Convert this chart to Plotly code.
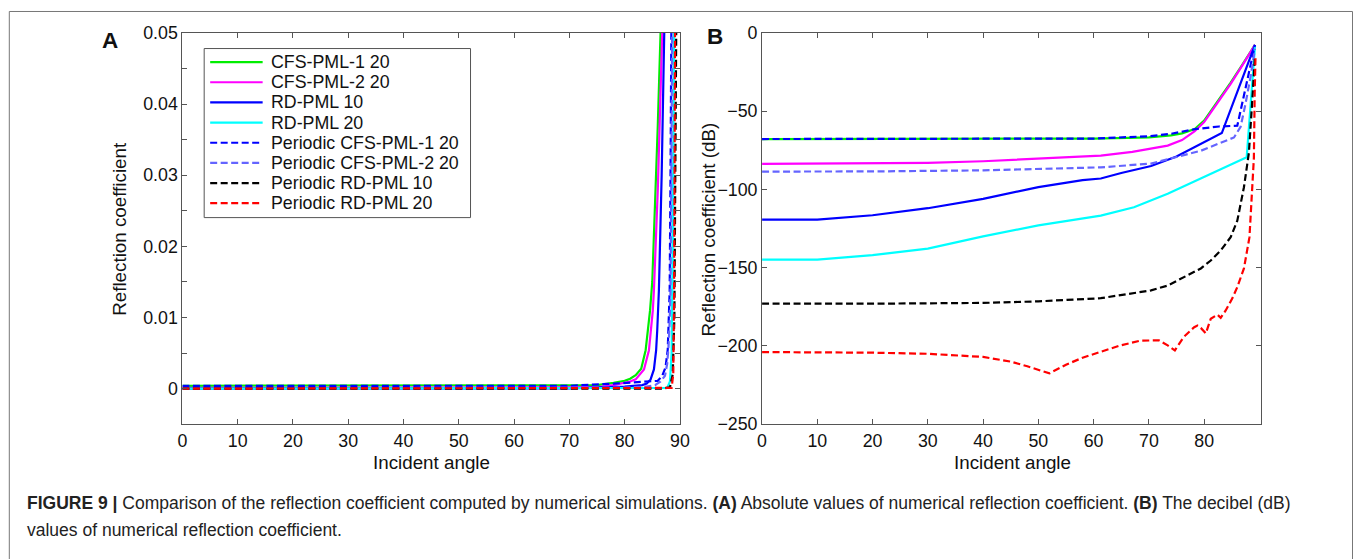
import plotly.graph_objects as go

# ---------------- data ----------------
names = ["CFS-PML-1 20", "CFS-PML-2 20", "RD-PML 10", "RD-PML 20",
         "Periodic CFS-PML-1 20", "Periodic CFS-PML-2 20",
         "Periodic RD-PML 10", "Periodic RD-PML 20"]
colors = ["#00ee00", "#ff00ff", "#0000ff", "#00ffff",
          "#0000ff", "#6464ff", "#000000", "#ff0000"]
dashes = ["solid", "solid", "solid", "solid",
          "7px,3.5px", "7px,3.5px", "7px,3.5px", "7px,3.5px"]

# Panel A: absolute reflection coefficient
a_cfs1_x = [0, 60, 75, 78, 80, 81, 82, 83, 83.8, 84.2, 84.6, 85.0, 85.5, 86.0, 86.5, 86.9]
a_cfs1_y = [0.0004, 0.0004, 0.0005, 0.0008, 0.0011, 0.0014, 0.0019, 0.0028, 0.0054, 0.0082, 0.011, 0.015, 0.025, 0.037, 0.050, 0.062]
a_cfs2_x = [0, 60, 75, 78, 80, 81, 82, 83.5, 84.4, 84.8, 85.1, 85.3, 86.0, 86.8, 87.1]
a_cfs2_y = [0.0001, 0.0001, 0.0002, 0.0005, 0.0008, 0.001, 0.0013, 0.0027, 0.0054, 0.0082, 0.011, 0.0138, 0.028, 0.05, 0.06]
a_rd10_x = [0, 70, 80, 82, 83.2, 84.0, 84.7, 85.3, 85.7, 85.9, 86.1, 86.2, 86.7, 87.2, 87.4]
a_rd10_y = [0.000001, 0.00005, 0.0003, 0.0004, 0.0005, 0.0007, 0.0013, 0.0027, 0.0054, 0.0082, 0.011, 0.0138, 0.03, 0.05, 0.06]
a_rd20_x = [0, 85, 87.7, 88.2, 88.5, 88.7, 88.85, 89.0, 89.1]
a_rd20_y = [0, 0.00002, 0.0001, 0.001, 0.005, 0.02, 0.035, 0.05, 0.07]
a_pcfs1_x = [0, 70, 78, 82, 84, 86, 86.8, 87.4, 87.8, 88.0, 88.15, 88.3, 88.45, 88.6]
a_pcfs1_y = [0.0004, 0.0004, 0.0007, 0.0009, 0.001, 0.0011, 0.0018, 0.003, 0.0055, 0.0095, 0.0138, 0.03, 0.05, 0.07]
a_pcfs2_x = [0, 70, 80, 84, 85.5, 86.5, 87.3, 87.7, 87.95, 88.15, 88.3, 88.45, 88.6, 88.75]
a_pcfs2_y = [0.00003, 0.00006, 0.00015, 0.0003, 0.0005, 0.001, 0.0018, 0.0035, 0.006, 0.0095, 0.0138, 0.03, 0.05, 0.07]
a_prd10_x = [0, 87, 88.2, 88.7, 89.0, 89.2, 89.4, 89.5]
a_prd10_y = [0, 0.00001, 0.0002, 0.002, 0.01, 0.03, 0.05, 0.07]
a_prd20_x = [0, 88.5, 88.8, 88.95, 89.05, 89.1, 89.2]
a_prd20_y = [0, 0.0001, 0.002, 0.0138, 0.035, 0.05, 0.07]

# Panel B: reflection coefficient in dB
b_cfs1_x = [0, 20, 40, 60, 70, 74, 76, 78.3, 80, 81.2, 83, 84.8, 86.6, 88.4, 89.2]
b_cfs1_y = [-67.8, -67.8, -67.8, -67.5, -66.8, -65.5, -64.2, -61.4, -56, -50, -41, -31.7, -22, -12.5, -7.7]
b_cfs2_x = [0, 20, 30, 40, 50, 61.3, 67, 73.4, 76, 78.3, 80, 81.2, 83, 84.8, 86.6, 88.4, 89.2]
b_cfs2_y = [-83.7, -83.5, -83, -82, -80.5, -78.4, -76, -72, -68.5, -62.8, -57, -51, -42, -32.5, -22.5, -12.8, -7.7]
b_rd10_x = [0, 10, 20, 30, 40, 50, 58, 61.3, 65, 70.4, 75, 79.4, 83.2, 89.2]
b_rd10_y = [-119.3, -119.3, -116.5, -112, -106, -98.5, -94, -93, -89.5, -85, -79, -71, -64, -7.7]
b_rd20_x = [0, 10, 20, 30, 40, 50, 61.3, 67.3, 73.4, 79.4, 85.4, 87.7, 89.2]
b_rd20_y = [-144.8, -144.8, -142, -137.8, -130, -123, -116.7, -111.4, -102.7, -93.1, -83.5, -79.5, -8.5]
b_pcfs1_x = [0, 20, 40, 60, 70, 74, 78.3, 82.7, 86, 89.2]
b_pcfs1_y = [-67.8, -67.8, -67.8, -67.5, -66, -64.5, -61.5, -59.8, -59.3, -7.7]
b_pcfs2_x = [0, 20, 40, 50, 61.3, 70.4, 79.4, 85.4, 86.6, 87.5, 88.4, 89.2]
b_pcfs2_y = [-88.6, -88.5, -87.8, -87, -85.9, -83.5, -75.3, -66.8, -60, -45, -28, -10]
b_prd10_x = [0, 20, 40, 50, 61.3, 65, 70.4, 73.4, 76.3, 79.4, 81.2, 83, 84.8, 86, 87.2, 88.1, 88.8, 89.2]
b_prd10_y = [-173, -173, -172.5, -171.5, -169.5, -167.5, -164.5, -161.4, -156, -150.5, -145.4, -139, -130.5, -120, -98.6, -76.5, -38, -14.7]
b_prd20_x = [0, 10, 20, 30, 40, 45, 48, 52, 55, 58, 61.3, 64.9, 68.5, 71.8, 73.4, 74.7, 76.3, 78.2,
             78.8, 79.4, 80.3, 81.2, 82.4, 83, 83.9, 85.1, 86, 87.2, 88.2, 88.7, 89.0, 89.15, 89.3]
b_prd20_y = [-203.9, -204, -204.3, -205, -207, -210, -213, -217.5, -212, -207.5, -203.9, -199.6, -196.6, -196.4,
             -199.6, -202.8, -194.3, -188, -187, -188.5, -192, -182.6, -180, -182, -177.3, -169.6, -162.4,
             -150.5, -130.5, -100, -80, -38, -14.7]

a_x = [a_cfs1_x, a_cfs2_x, a_rd10_x, a_rd20_x, a_pcfs1_x, a_pcfs2_x, a_prd10_x, a_prd20_x]
a_y = [a_cfs1_y, a_cfs2_y, a_rd10_y, a_rd20_y, a_pcfs1_y, a_pcfs2_y, a_prd10_y, a_prd20_y]
b_x = [b_cfs1_x, b_cfs2_x, b_rd10_x, b_rd20_x, b_pcfs1_x, b_pcfs2_x, b_prd10_x, b_prd20_x]
b_y = [b_cfs1_y, b_cfs2_y, b_rd10_y, b_rd20_y, b_pcfs1_y, b_pcfs2_y, b_prd10_y, b_prd20_y]

a_xticks = [0, 10, 20, 30, 40, 50, 60, 70, 80, 90]
a_yticks = [0, 0.005, 0.01, 0.015, 0.02, 0.025, 0.03, 0.035, 0.04, 0.045, 0.05]
a_yticktext = ["0", "", "0.01", "", "0.02", "", "0.03", "", "0.04", "", "0.05"]
b_xticks = [0, 10, 20, 30, 40, 50, 60, 70, 80]
b_yticks = [-250, -200, -150, -100, -50, 0]

caption1 = ("<b>FIGURE 9 | </b>Comparison of the reflection coefficient computed by numerical simulations. "
            "<b>(A)</b> Absolute values of numerical reflection coefficient. <b>(B)</b> The decibel (dB)")
caption2 = "values of numerical reflection coefficient."

# ---------------- figure ----------------
# calibration of page position -> picture position observed in earlier runs
SX, AX = 0.9896, 4.2
SY, AY = 0.969, 8.0
W, H = 1366, 569
FONT = "Liberation Sans, Arial, Helvetica, sans-serif"
INK = "#111"
fig = go.Figure()

for i in range(8):
    fig.add_trace(go.Scatter(x=a_x[i], y=a_y[i], mode="lines", name=names[i],
                             line=dict(color=colors[i], width=2.2, dash=dashes[i]),
                             xaxis="x", yaxis="y", showlegend=False))
for i in range(8):
    fig.add_trace(go.Scatter(x=b_x[i], y=b_y[i], mode="lines", name=names[i],
                             line=dict(color=colors[i], width=2.2, dash=dashes[i]),
                             xaxis="x2", yaxis="y2", showlegend=False))


def px_x(t):
    return ((t - AX) / SX) / W


def px_y(t):
    return 1 - ((t - AY) / SY) / H


axis_common = dict(showline=True, linecolor="#555", linewidth=1, ticks="inside", ticklen=5,
                   tickcolor="#555", mirror="allticks", showgrid=False, zeroline=False,
                   tickfont=dict(size=17.8, color=INK, family=FONT))

fig.update_layout(
    width=W, height=H, autosize=False,
    margin=dict(l=0, r=0, t=0, b=0),
    paper_bgcolor="white", plot_bgcolor="white",
    font=dict(family=FONT, color=INK),
    showlegend=False,
    xaxis=dict(domain=[px_x(181.7), px_x(679.5)], range=[0, 90], tickvals=a_xticks, anchor="y", **axis_common),
    yaxis=dict(domain=[px_y(424), px_y(31)], range=[-0.005, 0.05], tickvals=a_yticks,
               ticktext=a_yticktext, anchor="x", **axis_common),
    xaxis2=dict(domain=[px_x(761.7), px_x(1261)], range=[0, 90.3], tickvals=b_xticks, anchor="y2", **axis_common),
    yaxis2=dict(domain=[px_y(424), px_y(31)], range=[-250, 0], tickvals=b_yticks, anchor="x2", **axis_common),
)

ann = []
ann.append(dict(text="Reflection coefficient", x=px_x(118), y=px_y(228), textangle=-90, font=dict(size=18.8)))
ann.append(dict(text="Reflection coefficient (dB)", x=px_x(708), y=px_y(228), textangle=-90, font=dict(size=18.8)))
ann.append(dict(text="Incident angle", x=px_x(431), y=px_y(462), font=dict(size=18.8)))
ann.append(dict(text="Incident angle", x=px_x(1012), y=px_y(462), font=dict(size=18.8)))
ann.append(dict(text="<b>A</b>", x=px_x(109), y=px_y(39), font=dict(size=22.5)))
ann.append(dict(text="<b>B</b>", x=px_x(714.5), y=px_y(35), font=dict(size=22.5)))
for a in ann:
    a.update(xref="paper", yref="paper", showarrow=False, xanchor="center", yanchor="middle")
    a["font"].update(family=FONT, color=INK)
fig.update_layout(annotations=ann)

# legend drawn inside panel A
leg_left, leg_top, leg_right, leg_bottom = 203.5, 46.7, 470, 216.5
row0, row_step = 60.3, 20.25
fig.add_shape(type="rect", xref="paper", yref="paper", x0=px_x(leg_left), x1=px_x(leg_right),
              y0=px_y(leg_bottom), y1=px_y(leg_top), line=dict(color="#555", width=1), fillcolor="white",
              layer="above")
for i in range(8):
    yy = row0 + row_step * i
    fig.add_shape(type="line", xref="paper", yref="paper", x0=px_x(209.5), x1=px_x(262),
                  y0=px_y(yy), y1=px_y(yy), line=dict(color=colors[i], width=2.2, dash=dashes[i]),
                  layer="above")
    fig.add_annotation(text=names[i], x=px_x(268), y=px_y(yy), xref="paper", yref="paper",
                       showarrow=False, xanchor="left", yanchor="middle",
                       font=dict(size=17.8, family=FONT, color=INK))

fig.add_annotation(text=caption1, x=px_x(24), y=px_y(503), xref="paper", yref="paper", showarrow=False,
                   xanchor="left", yanchor="middle", font=dict(size=17.5, family=FONT, color="#222"))
fig.add_annotation(text=caption2, x=px_x(24), y=px_y(530), xref="paper", yref="paper", showarrow=False,
                   xanchor="left", yanchor="middle", font=dict(size=17.5, family=FONT, color="#222"))

# outer frame of the figure panel
fig.add_shape(type="rect", xref="paper", yref="paper", x0=px_x(8.5), x1=px_x(1352.5),
              y0=-0.05, y1=px_y(9.5), line=dict(color="#777", width=1), fillcolor="rgba(0,0,0,0)")

fig.write_html("out.html", config={"displayModeBar": False},
               post_script="document.body.style.margin='0';document.body.style.overflow='hidden';")
